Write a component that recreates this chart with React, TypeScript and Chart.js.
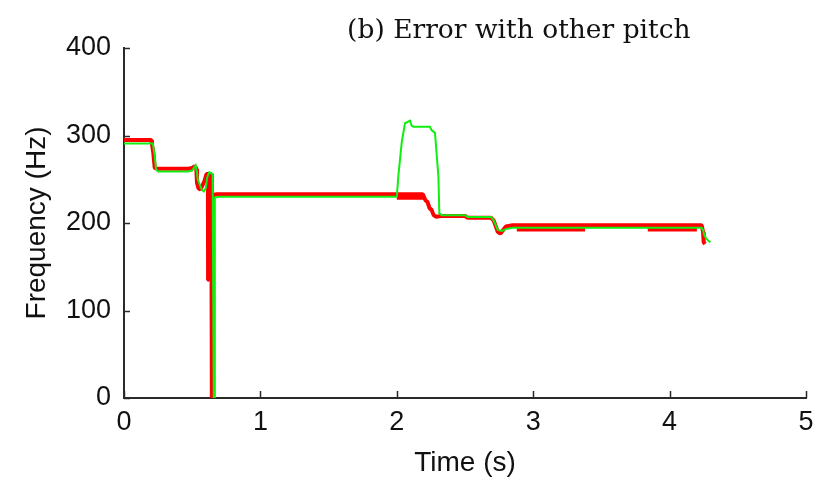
import { useEffect, useRef } from "react";
import { Chart, registerables } from "chart.js";

Chart.register(...registerables);

// Reference pitch track (red)
const redTime = [
  0, 0.2, 0.205, 0.215, 0.225, 0.24, 0.47, 0.5, 0.52, 0.53, 0.535, 0.545, 0.56, 0.59, 0.605,
  0.615, 0.6165, 0.618, 0.64, 0.644, 0.648, 0.652, 0.68, 2.19, 2.21, 2.225, 2.24, 2.255, 2.27,
  2.29, 2.32, 2.5, 2.52, 2.69, 2.71, 2.74, 2.76, 2.8, 2.85, 4.235, 4.245, 4.25, 4.26,
];
const redFreq = [
  295, 295, 290, 280, 263, 262, 262, 263, 265, 262, 246, 240, 238, 248, 256,
  256, 135, 256, 256, 0, 0, 232, 233, 233, 226, 224, 217, 215, 209,
  207, 208, 208, 206, 206, 203, 190, 188, 196, 197.5, 197.5, 190, 178, 176,
];

// Segments where the red track is doubled (thicker band)
const redBandStart = [2.0, 2.88, 3.84];
const redBandEnd = [2.21, 3.38, 4.2];
const redBandFreq = [229, 192.5, 192.5];

// Estimated pitch track with the octave error (green)
const greenTime = [
  0, 0.21, 0.215, 0.225, 0.235, 0.25, 0.47, 0.5, 0.525, 0.535, 0.54, 0.555, 0.57, 0.585, 0.6,
  0.61, 0.625, 0.65, 0.654, 0.658, 0.662, 0.666, 0.7, 2.0, 2.011, 2.036, 2.06, 2.097, 2.109,
  2.121, 2.243, 2.256, 2.28, 2.305, 2.312, 2.33, 2.5, 2.52, 2.69, 2.71, 2.74, 2.77, 2.8, 2.85,
  4.235, 4.245, 4.255, 4.27, 4.29, 4.3,
];
const greenFreq = [
  291, 291, 287, 277, 261, 259, 259, 260, 266, 258, 250, 244, 238, 236, 240,
  252, 258, 256, 115, 0, 0, 229, 230, 230, 253, 292, 314, 317, 311,
  310, 310, 306, 303, 253, 211, 209, 209, 207, 207, 203, 192, 191, 193, 194.5,
  194.5, 192, 186, 182, 179, 178,
];

const xTicks = [0, 1, 2, 3, 4, 5];
const yTicks = [0, 100, 200, 300, 400];

const chartTitle = "(b) Error with other pitch";
const xTitle = "Time (s)";
const yTitle = "Frequency (Hz)";

const AXIS_COLOR = "#2a2a2a";
const TEXT_COLOR = "#111111";

export default function App() {
  const ref = useRef<HTMLCanvasElement | null>(null);

  useEffect(() => {
    document.body.style.margin = "0";
    if (!ref.current) return;

    const toPts = (ts: number[], fs: number[]) => ts.map((t, i) => ({ x: t, y: fs[i] }));
    const bandPts: { x: number; y: number | null }[] = [];
    redBandStart.forEach((s, i) => {
      bandPts.push({ x: s, y: redBandFreq[i] });
      bandPts.push({ x: redBandEnd[i], y: redBandFreq[i] });
      bandPts.push({ x: redBandEnd[i], y: null });
    });

    const decorPlugin = {
      id: "decor",
      afterDatasetsDraw(chart: any) {
        const { ctx, chartArea, scales } = chart;
        ctx.save();
        ctx.strokeStyle = AXIS_COLOR;
        ctx.lineWidth = 1.5;
        ctx.beginPath();
        xTicks.forEach((v) => {
          const px = Math.round(scales.x.getPixelForValue(v)) + 0.5;
          ctx.moveTo(px, chartArea.bottom);
          ctx.lineTo(px, chartArea.bottom - 7);
        });
        yTicks.forEach((v) => {
          const py = Math.round(scales.y.getPixelForValue(v)) + 0.5;
          ctx.moveTo(chartArea.left, py);
          ctx.lineTo(chartArea.left + 6, py);
        });
        ctx.stroke();
        ctx.restore();
      },
      afterDraw(chart: any) {
        const { ctx, chartArea } = chart;
        ctx.save();
        ctx.fillStyle = TEXT_COLOR;
        ctx.font = '26.5px "DejaVu Serif", "Liberation Serif", serif';
        ctx.textAlign = "center";
        ctx.textBaseline = "alphabetic";
        const cx = chartArea.left + chartArea.width * 0.579;
        ctx.fillText(chartTitle, cx, 38);
        ctx.restore();
      },
    };

    const tickFont = { family: '"Liberation Sans", Arial, sans-serif', size: 27 };
    const titleFont = { family: '"Liberation Sans", Arial, sans-serif', size: 28 };

    const chart = new Chart(ref.current, {
      type: "scatter",
      data: {
        datasets: [
          {
            data: toPts(greenTime, greenFreq),
            showLine: true,
            borderColor: "#11ee11",
            borderWidth: 2,
            pointRadius: 0,
            tension: 0,
          },
          {
            data: bandPts as any,
            showLine: true,
            borderColor: "#ff0000",
            borderWidth: 4,
            pointRadius: 0,
            tension: 0,
            spanGaps: false,
          },
          {
            data: toPts(redTime, redFreq),
            showLine: true,
            borderColor: "#ff0000",
            borderWidth: 4,
            borderJoinStyle: "bevel",
            pointRadius: 0,
            tension: 0,
          },
        ],
      },
      options: {
        responsive: false,
        animation: false,
        events: [],
        layout: { padding: { top: 48, right: 19, left: 0, bottom: 0 } },
        plugins: {
          legend: { display: false },
          tooltip: { enabled: false },
          title: { display: false },
        },
        scales: {
          x: {
            type: "linear",
            min: 0,
            max: 5,
            afterBuildTicks: (s: any) => {
              s.ticks = xTicks.map((v) => ({ value: v }));
            },
            ticks: { color: TEXT_COLOR, font: tickFont, padding: 8, maxRotation: 0 },
            grid: { display: false, drawTicks: false },
            border: { display: true, color: AXIS_COLOR, width: 2 },
            title: {
              display: true,
              text: xTitle,
              color: TEXT_COLOR,
              font: titleFont,
              padding: { top: 0, bottom: 6 },
            },
            afterFit: (s: any) => {
              s.height = 88;
            },
          },
          y: {
            type: "linear",
            min: 0,
            max: 400,
            afterBuildTicks: (s: any) => {
              s.ticks = yTicks.map((v) => ({ value: v }));
            },
            ticks: { color: TEXT_COLOR, font: tickFont, padding: 13 },
            grid: { display: false, drawTicks: false },
            border: { display: true, color: AXIS_COLOR, width: 2 },
            title: {
              display: true,
              text: yTitle,
              color: TEXT_COLOR,
              font: titleFont,
              padding: { top: 20, bottom: 0 },
            },
            afterFit: (s: any) => {
              s.width = 124;
            },
          },
        },
      },
      plugins: [decorPlugin],
    } as any);

    return () => chart.destroy();
  }, []);

  return <canvas ref={ref} width={825} height={486} style={{ display: "block" }} />;
}
